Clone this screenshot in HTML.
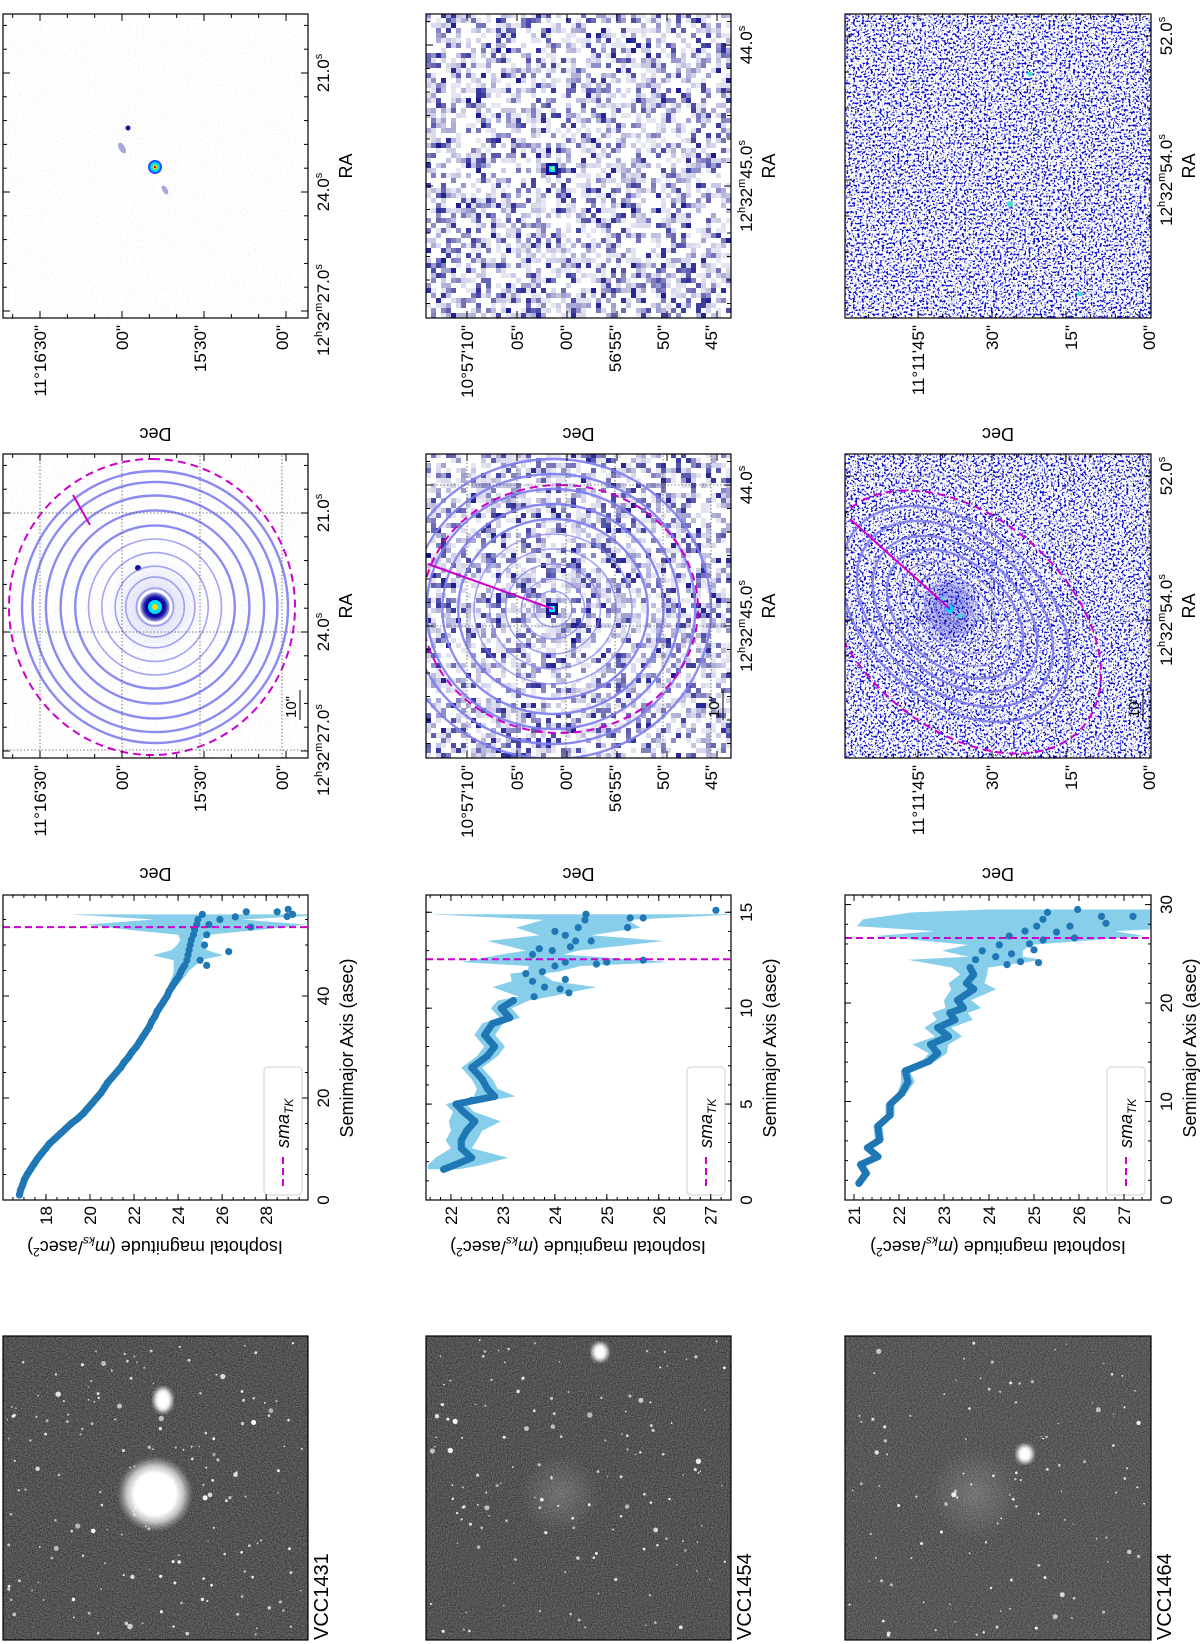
<!DOCTYPE html>
<html><head><meta charset="utf-8">
<style>
html,body{margin:0;padding:0;background:#fff;}
body{width:1200px;height:1644px;overflow:hidden;position:relative;}
#fig{position:absolute;left:0;top:0;width:1644px;height:1200px;transform-origin:0 0;transform:translate(0px,1644px) rotate(-90deg);}
text{font-family:"Liberation Sans",sans-serif;fill:#000;}
filter{color-interpolation-filters:sRGB;}
</style></head>
<body>
<div id="fig">
<svg id="fig-svg" width="1644" height="1200" viewBox="0 0 1644 1200" xmlns="http://www.w3.org/2000/svg">
<defs>
<filter id="grain1" x="0" y="0" width="1" height="1" color-interpolation-filters="sRGB"><feTurbulence type="fractalNoise" baseFrequency="0.8" numOctaves="1" seed="3"/><feColorMatrix type="matrix" values="0.45 0 0 0 0.1 0.45 0 0 0 0.1 0.45 0 0 0 0.1 0 0 0 0 1"/></filter>
<filter id="grain2" x="0" y="0" width="1" height="1" color-interpolation-filters="sRGB"><feTurbulence type="fractalNoise" baseFrequency="0.8" numOctaves="1" seed="11"/><feColorMatrix type="matrix" values="0.45 0 0 0 0.1 0.45 0 0 0 0.1 0.45 0 0 0 0.1 0 0 0 0 1"/></filter>
<filter id="grain3" x="0" y="0" width="1" height="1" color-interpolation-filters="sRGB"><feTurbulence type="fractalNoise" baseFrequency="0.8" numOctaves="1" seed="21"/><feColorMatrix type="matrix" values="0.45 0 0 0 0.12 0.45 0 0 0 0.12 0.45 0 0 0 0.12 0 0 0 0 1"/></filter>
<filter id="speck" x="0" y="0" width="1" height="1" color-interpolation-filters="sRGB"><feTurbulence type="fractalNoise" baseFrequency="0.45" numOctaves="2" seed="7"/><feColorMatrix type="matrix" values="0 0 0 0 0.02  0 0 0 0 0.05  0 0 0 0 0.8  10 0 0 0 -5.3"/></filter>
<filter id="speck2" x="0" y="0" width="1" height="1" color-interpolation-filters="sRGB"><feTurbulence type="fractalNoise" baseFrequency="0.45" numOctaves="2" seed="17"/><feColorMatrix type="matrix" values="0 0 0 0 0.02  0 0 0 0 0.05  0 0 0 0 0.8  10 0 0 0 -5.3"/></filter>
<filter id="faint" x="0" y="0" width="1" height="1" color-interpolation-filters="sRGB"><feTurbulence type="fractalNoise" baseFrequency="0.6" numOctaves="1" seed="5"/><feColorMatrix type="matrix" values="0 0 0 0 0.5  0 0 0 0 0.5  0 0 0 0 0.8  1.2 0 0 0 -0.6"/></filter>
<filter id="blur2"><feGaussianBlur stdDeviation="2"/></filter>
<filter id="blur5"><feGaussianBlur stdDeviation="6"/></filter>
<radialGradient id="glow" cx="50%" cy="50%" r="50%"><stop offset="0" stop-color="#fff"/><stop offset="0.55" stop-color="#fff"/><stop offset="0.75" stop-color="#ddd" stop-opacity="0.8"/><stop offset="1" stop-color="#aaa" stop-opacity="0"/></radialGradient>
<radialGradient id="halo" cx="50%" cy="50%" r="50%"><stop offset="0" stop-color="#2020c0" stop-opacity="0.5"/><stop offset="0.4" stop-color="#6060d0" stop-opacity="0.15"/><stop offset="1" stop-color="#8080e0" stop-opacity="0"/></radialGradient>
<radialGradient id="diffuse" cx="50%" cy="50%" r="50%"><stop offset="0" stop-color="#bbb" stop-opacity="0.3"/><stop offset="1" stop-color="#bbb" stop-opacity="0"/></radialGradient>
<clipPath id="cg1"><rect x="4" y="3" width="304" height="305"/></clipPath>
<clipPath id="cg2"><rect x="4" y="426" width="304" height="305"/></clipPath>
<clipPath id="cg3"><rect x="4" y="845" width="304" height="306"/></clipPath>
<clipPath id="ce1"><rect x="886" y="3" width="304" height="305"/></clipPath>
<clipPath id="ce2"><rect x="886" y="426" width="304" height="305"/></clipPath>
<clipPath id="ce3"><rect x="886" y="845" width="304" height="306"/></clipPath>
<clipPath id="cr1"><rect x="1326" y="3" width="304" height="305"/></clipPath>
<clipPath id="cr2"><rect x="1326" y="426" width="304" height="305"/></clipPath>
<clipPath id="cr3"><rect x="1326" y="845" width="304" height="306"/></clipPath>
</defs>

<g id="gray1" clip-path="url(#cg1)">
<rect x="4" y="3" width="304" height="305" filter="url(#grain1)"/>
<circle cx="150" cy="155" r="38" fill="url(#glow)"/>
<ellipse cx="244" cy="163" rx="12" ry="9" fill="#fff" filter="url(#blur2)"/>
</g>
<g id="gray2" clip-path="url(#cg2)">
<rect x="4" y="426" width="304" height="305" filter="url(#grain2)"/>
<circle cx="150" cy="560" r="40" fill="url(#diffuse)"/>
<ellipse cx="292" cy="600" rx="9" ry="8" fill="#fff" filter="url(#blur2)"/>
</g>
<g id="gray3" clip-path="url(#cg3)">
<rect x="4" y="845" width="304" height="306" filter="url(#grain3)"/>
<circle cx="150" cy="975" r="45" fill="url(#diffuse)"/>
<ellipse cx="190" cy="1025" rx="9" ry="8" fill="#fff" filter="url(#blur2)"/>
</g>
<rect x="4" y="3" width="304" height="305" fill="none" stroke="#000" stroke-width="1.2"/>
<rect x="4" y="426" width="304" height="305" fill="none" stroke="#000" stroke-width="1.2"/>
<rect x="4" y="845" width="304" height="306" fill="none" stroke="#000" stroke-width="1.2"/>
<text x="4" y="328" font-size="20">VCC1431</text>
<text x="4" y="751" font-size="20">VCC1454</text>
<text x="4" y="1171" font-size="20">VCC1464</text>

<text x="596" y="353" font-size="18" text-anchor="middle">Semimajor Axis (asec)</text>
<text x="596" y="776" font-size="18" text-anchor="middle">Semimajor Axis (asec)</text>
<text x="596" y="1196" font-size="18" text-anchor="middle">Semimajor Axis (asec)</text>
<text transform="translate(403,155) rotate(-90)" font-size="18" text-anchor="middle">Isophotal magnitude (<tspan font-style="italic">m</tspan><tspan font-style="italic" font-size="12" dy="4">ks</tspan><tspan dy="-4">/asec</tspan><tspan font-size="12" dy="-7">2</tspan><tspan dy="7">)</tspan></text>
<text transform="translate(403,578) rotate(-90)" font-size="18" text-anchor="middle">Isophotal magnitude (<tspan font-style="italic">m</tspan><tspan font-style="italic" font-size="12" dy="4">ks</tspan><tspan dy="-4">/asec</tspan><tspan font-size="12" dy="-7">2</tspan><tspan dy="7">)</tspan></text>
<text transform="translate(403,998) rotate(-90)" font-size="18" text-anchor="middle">Isophotal magnitude (<tspan font-style="italic">m</tspan><tspan font-style="italic" font-size="12" dy="4">ks</tspan><tspan dy="-4">/asec</tspan><tspan font-size="12" dy="-7">2</tspan><tspan dy="7">)</tspan></text>

<g clip-path="url(#ce1)">
<rect x="886" y="3" width="304" height="305" fill="#fff"/>
<rect x="886" y="3" width="304" height="305" filter="url(#faint)" opacity="0.3"/>
<circle cx="1037" cy="155" r="50" fill="url(#halo)"/>
<circle cx="1037" cy="155" r="13" fill="#0000a0" filter="url(#blur2)"/>
<circle cx="1076" cy="138" r="3" fill="#1010a0"/>
</g>
<g id="ell2bg" clip-path="url(#ce2)"><rect x="886" y="426" width="304" height="305" fill="#fff"/></g>
<g clip-path="url(#ce3)">
<rect x="886" y="845" width="304" height="306" fill="#fff"/>
<rect x="886" y="845" width="304" height="306" filter="url(#speck)"/>
<ellipse cx="1035" cy="950" rx="30" ry="25" fill="#0000c0" opacity="0.3" filter="url(#blur5)"/>
<circle cx="1035" cy="950" r="4" fill="#00d0ff"/>
<circle cx="1028" cy="960" r="2.5" fill="#40e0d0"/>
<circle cx="1045" cy="942" r="2.5" fill="#40e0d0"/>
</g>
<g clip-path="url(#cr1)">
<rect x="1326" y="3" width="304" height="305" fill="#fff"/>
<rect x="1326" y="3" width="304" height="305" filter="url(#faint)" opacity="0.3"/>
<circle cx="1516" cy="128" r="2.5" fill="#101090"/>
<ellipse cx="1496" cy="122" rx="6" ry="3" fill="#7070c0" opacity="0.6" transform="rotate(-30 1496 122)"/>
<ellipse cx="1454" cy="165" rx="5" ry="2.5" fill="#7070c0" opacity="0.6" transform="rotate(-30 1454 165)"/>
<circle cx="1477" cy="155" r="7" fill="#1a50ff"/>
<circle cx="1477" cy="155" r="5" fill="#00e0ff"/>
<circle cx="1477" cy="155" r="2.5" fill="#f0e000"/>
<circle cx="1477" cy="155" r="1.2" fill="#e00000"/>
</g>
<g id="res2bg" clip-path="url(#cr2)"><rect x="1326" y="426" width="304" height="305" fill="#fff"/></g>
<g clip-path="url(#cr3)">
<rect x="1326" y="845" width="304" height="306" fill="#fff"/>
<rect x="1326" y="845" width="304" height="306" filter="url(#speck2)"/>
<circle cx="1440" cy="1010" r="3" fill="#40e0d0"/>
<circle cx="1570" cy="1030" r="2.5" fill="#40e0d0"/>
<circle cx="1350" cy="1080" r="2.5" fill="#40e0d0"/>
</g>
</svg>
</div>

<script>
// ---------- profile data ----------
const r1Sma=[1,2,3,4,5,6,7,8,9,10,11,12,13,14,15,16,17,18,19,20,21,22,23,24,25,26,27,28,29,30,31,32,33,34,35,36,37,38,39,40,41,42,43,44,45,46,47,48,49,50,51,52,53,54,55,56];
const r1Mag=[16.8,16.85,16.95,17.02,17.15,17.3,17.45,17.6,17.78,17.97,18.15,18.4,18.65,18.9,19.15,19.45,19.7,19.9,20.1,20.3,20.5,20.65,20.8,21.0,21.2,21.4,21.55,21.75,21.9,22.1,22.25,22.4,22.55,22.7,22.8,22.95,23.05,23.2,23.35,23.5,23.6,23.75,23.9,24.05,24.15,24.3,24.4,24.45,24.5,24.55,24.6,24.7,24.75,24.85,24.9,25.1];
const r1Err=[0.03,0.03,0.03,0.03,0.03,0.03,0.03,0.03,0.03,0.03,0.03,0.03,0.03,0.03,0.03,0.03,0.03,0.03,0.03,0.03,0.03,0.03,0.03,0.03,0.03,0.03,0.03,0.03,0.03,0.03,0.04,0.04,0.05,0.05,0.06,0.06,0.08,0.1,0.1,0.12,0.15,0.2,0.25,0.3,0.35,0.5,0.6,1.6,0.8,0.6,0.5,0.7,3,5,2,6];
const r1ExSma=[48.7,55.5,55,56.5,56.5,57,56,55.6,54,52,47,46,50,53.5];
const r1ExMag=[26.3,26.6,25.9,27.1,28.5,29.0,29.2,28.95,25.4,25.3,25.0,25.3,25.2,27.3];
const r1SmaTK=53.5;
const r1XTicks=[0,20,40];
const r1YTicks=[18,20,22,24,26,28];

const r2Sma=[1.6,1.8,2.2,2.7,3.1,3.6,4.1,4.6,5.0,5.4,5.8,6.3,6.9,7.5,8.0,8.6,9.2,9.5,10.0,10.4,10.6,11.1,11.4,11.8,11.9,12.2,12.4,12.8,13.0,13.5,13.8,14.2,14.6,14.9];
const r2Mag=[21.86,22.05,22.4,22.2,22.2,22.3,22.46,22.24,22.1,22.84,22.7,22.6,22.4,22.7,22.84,22.65,22.8,23.13,22.97,23.2,23.6,23.8,23.57,23.44,23.76,24.0,24.2,23.57,23.95,24.4,24.2,24.45,24.58,24.6];
const r2Err=[0.3,0.5,0.7,0.2,0.3,0.3,0.5,0.2,0.2,0.4,0.2,0.2,0.2,0.2,0.2,0.2,0.2,0.2,0.2,0.3,0.3,1.0,0.4,0.3,0.3,0.5,2.0,0.6,0.5,1.7,0.5,1.2,0.8,3.0];
const r2ExSma=[5.2,10.8,12.3,12.4,12.5,14.2,14.7,14.7,13.5,15.1,11.0,13.2,14.0,11.5,13.1];
const r2ExMag=[22.4,24.27,24.8,25.0,25.7,25.4,25.45,25.7,24.7,27.1,24.1,24.3,24.0,24.2,23.7];
const r2SmaTK=12.55;
const r2XTicks=[0,5,10,15];
const r2YTicks=[22,23,24,25,26,27];

const r3Sma=[1.7,2.7,3.6,4.4,5.3,6.1,7.5,8.6,9.7,10.8,12.0,13.1,14.1,14.9,15.8,16.6,17.5,18.3,19.0,19.5,20.3,21.4,22.0,22.9,23.6,24.4,24.7,25.3,25.9,26.8,27.3,27.8,28.5,29.2,29.5];
const r3Mag=[21.11,21.27,21.15,21.53,21.3,21.57,21.53,21.8,21.8,22.06,22.2,22.14,22.67,22.86,22.7,23.1,22.86,23.24,23.13,23.43,23.3,23.66,23.5,23.66,23.58,23.7,24.15,23.85,24.23,24.45,24.8,25.06,25.2,25.3,25.97];
const r3Err=[0.1,0.1,0.1,0.1,0.1,0.1,0.1,0.1,0.1,0.1,0.15,0.1,0.15,0.2,0.4,0.3,0.3,0.4,0.4,0.4,0.3,0.5,0.4,0.3,0.4,1.5,0.6,0.9,0.7,3,2,4,4,3,2];
const r3ExSma=[24.2,24.1,25.4,26.4,26.6,27.8,28.1,28.8,28.8,25.0,26.0,23.9,27.2];
const r3ExMag=[24.7,25.1,25.0,25.2,25.9,25.8,26.6,26.5,27.2,24.5,24.9,24.4,25.5];
const r3SmaTK=26.6;
const r3XTicks=[0,10,20,30];
const r3YTicks=[21,22,23,24,25,26,27];

const NS='http://www.w3.org/2000/svg';
const svg=document.getElementById('fig-svg');
function mk(tag,attrs,parent){const e=document.createElementNS(NS,tag);for(const k in attrs)e.setAttribute(k,attrs[k]);(parent||svg).appendChild(e);return e;}

function drawProfile(id,x0,y0,w,h,xmin,xmax,ymin,ymax,sma,mag,err,exS,exM,tk,xt,yt,xminor,yminor,cut){
  const xs=v=>x0+(v-xmin)/(xmax-xmin)*w;
  const ys=v=>y0+(v-ymin)/(ymax-ymin)*h;
  const cp=mk('clipPath',{id:'cp'+id},svg.querySelector('defs'));
  mk('rect',{x:x0,y:y0,width:w,height:h},cp);
  const g=mk('g',{'clip-path':'url(#cp'+id+')'});
  
  
  let pts=[];
  for(let i=0;i<sma.length;i++)pts.push(xs(sma[i]).toFixed(1)+','+ys(mag[i]-err[i]).toFixed(1));
  for(let i=sma.length-1;i>=0;i--)pts.push(xs(sma[i]).toFixed(1)+','+ys(mag[i]+err[i]).toFixed(1));
  const band=mk('polygon',{points:pts.join(' '),fill:'#87ceeb'},g);
  
  
  let lp=[];
  for(let i=0;i<sma.length;i++){if(sma[i]<=cut)lp.push(xs(sma[i]).toFixed(1)+','+ys(mag[i]).toFixed(1));}
  const line=mk('polyline',{points:lp.join(' '),fill:'none',stroke:'#1f77b4','stroke-width':7,'stroke-linejoin':'round','stroke-linecap':'round'},g);
  
  
  for(let i=0;i<sma.length;i++){
    const c=mk('circle',{cx:xs(sma[i]).toFixed(1),cy:ys(mag[i]).toFixed(1),r:3.6,fill:'#1f77b4'},g);
    
    
  }
  for(let i=0;i<exS.length;i++){
    const c=mk('circle',{cx:xs(exS[i]).toFixed(1),cy:ys(exM[i]).toFixed(1),r:3.6,fill:'#1f77b4'},g);
    
    
  }
  const tl=mk('line',{x1:xs(tk),x2:xs(tk),y1:y0,y2:y0+h,stroke:'#cc00cc','stroke-width':2,'stroke-dasharray':'7,4'},g);
  
  
  const lg=mk('g',{});
  
  
  mk('rect',{x:x0+5,y:y0+h-44,width:128,height:38,rx:4,fill:'#fff','fill-opacity':0.85,stroke:'#d0d0d0'},lg);
  mk('line',{x1:x0+14,x2:x0+43,y1:y0+h-25,y2:y0+h-25,stroke:'#cc00cc','stroke-width':2,'stroke-dasharray':'7,4'},lg);
  const lt=mk('text',{x:x0+52,y:y0+h-19,'font-size':18,'font-style':'italic'},lg);
  lt.textContent='sma';
  const ls=mk('tspan',{'font-size':12,dy:4},lt);
  ls.textContent='TK';
  const fr=mk('rect',{x:x0,y:y0,width:w,height:h,fill:'none',stroke:'#000','stroke-width':1.2});
  
  
  for(const v of xt){
    const X=xs(v);
    mk('line',{x1:X,x2:X,y1:y0+h,y2:y0+h-6,stroke:'#000'});
    mk('line',{x1:X,x2:X,y1:y0,y2:y0+6,stroke:'#000'});
    const t=mk('text',{x:X,y:y0+h+21,'font-size':17,'text-anchor':'middle'});
    t.textContent=String(v);
    
    
  }
  for(let v=xmin;v<=xmax;v+=xminor){const X=xs(v);mk('line',{x1:X,x2:X,y1:y0+h,y2:y0+h-3,stroke:'#000'});mk('line',{x1:X,x2:X,y1:y0,y2:y0+3,stroke:'#000'});}
  for(const v of yt){
    const Y=ys(v);
    mk('line',{x1:x0,x2:x0+6,y1:Y,y2:Y,stroke:'#000'});
    mk('line',{x1:x0+w,x2:x0+w-6,y1:Y,y2:Y,stroke:'#000'});
    const t=mk('text',{x:x0-6,y:Y+6,'font-size':17,'text-anchor':'end'});
    t.textContent=String(v);
    
    
  }
  for(let v=Math.ceil(ymin/yminor)*yminor;v<=ymax;v+=yminor){const Y=ys(v);mk('line',{x1:x0,x2:x0+3,y1:Y,y2:Y,stroke:'#000'});mk('line',{x1:x0+w,x2:x0+w-3,y1:Y,y2:Y,stroke:'#000'});}
}
drawProfile(1,444,3,305,305,0,59.8,16.05,29.9,r1Sma,r1Mag,r1Err,r1ExSma,r1ExMag,r1SmaTK,r1XTicks,r1YTicks,5,0.5,46);
drawProfile(2,444,426,305,305,0,15.9,21.52,27.39,r2Sma,r2Mag,r2Err,r2ExSma,r2ExMag,r2SmaTK,r2XTicks,r2YTicks,1,0.2,10.5);
drawProfile(3,444,845,305,306,0,30.97,20.8,27.6,r3Sma,r3Mag,r3Err,r3ExSma,r3ExMag,r3SmaTK,r3XTicks,r3YTicks,2,0.2,23.7);

// ---------- image textures ----------
let seed=12345;
function rnd(){seed=(seed*1103515245+12345)%2147483648;return seed/2147483648;}
function stars(gid,x0,y0,n){
  const g=document.getElementById(gid);
  for(let i=0;i<n;i++){
    const r=rnd()<0.88?0.7+rnd()*0.9:1.4+rnd()*1.4;
    const s=mk('circle',{cx:(x0+4+rnd()*296).toFixed(1),cy:(y0+4+rnd()*296).toFixed(1),r:r.toFixed(1),fill:'#fff','fill-opacity':(0.55+rnd()*0.45).toFixed(2)},g);
    
    
  }
}
stars('gray1',4,3,170);stars('gray2',4,426,140);stars('gray3',4,845,110);

function blocks(gid,x0,y0){
  const g=document.getElementById(gid);
  const cs=5;
  for(let i=0;i<61;i++)for(let j=0;j<61;j++){
    const r=rnd();
    if(r<0.45)continue;
    const a=Math.pow((r-0.45)/0.55,2.2);
    const rc=mk('rect',{x:x0+i*cs,y:y0+j*cs,width:cs,height:cs,fill:'#10108a','fill-opacity':(0.1+a*0.85).toFixed(2)},g);
    
    
  }
}
blocks('res2bg',1326,426);blocks('ell2bg',886,426);
(function(){
  for(const [gid,cx] of [['res2bg',1475],['ell2bg',1035]]){
    const g=document.getElementById(gid);
    mk('rect',{x:cx-6,y:546,width:12,height:12,fill:'#10108a'},g);
    mk('rect',{x:cx-3,y:549,width:6,height:6,fill:'#00e0ff'},g);
    mk('rect',{x:cx-1,y:551,width:3,height:3,fill:'#e8e000'},g);
  }
})();

// ---------- ellipse overlays ----------
function ellipses(cx,cy,rot,a,b,fr,clip,id){
  const g=mk('g',{'clip-path':'url(#'+clip+')'});
  
  
  for(const f of fr){
    const e=mk('ellipse',{cx:cx,cy:cy,rx:(a*f).toFixed(1),ry:(b*f).toFixed(1),fill:'none',stroke:'#7d7df0','stroke-width':f>0.5?2.4:1.6,'stroke-opacity':f>0.5?0.9:0.7,transform:'rotate('+rot+' '+cx+' '+cy+')'},g);
    
    
  }
  return g;
}
const g1=ellipses(1037,155,0,136,133,[0.14,0.22,0.3,0.4,0.5,0.6,0.71,0.82,0.92,1.0],'ce1','1');
mk('circle',{cx:1037,cy:155,r:16,fill:'none',stroke:'#fff','stroke-width':2.5},g1);
mk('circle',{cx:1037,cy:155,r:7,fill:'#00e0ff'},g1);
mk('circle',{cx:1037,cy:155,r:3,fill:'#f0e000'},g1);
const d1=mk('ellipse',{cx:1037,cy:152,rx:148,ry:143,fill:'none',stroke:'#cc00cc','stroke-width':2,'stroke-dasharray':'8,5'},g1);


mk('line',{x1:1149,y1:73,x2:1119,y2:90,stroke:'#cc00cc','stroke-width':2},g1);

const g2=ellipses(1035,553,0,150,158,[0.12,0.2,0.3,0.4,0.5,0.6,0.7,0.8,0.9,1.0],'ce2','2');
const d2=mk('ellipse',{cx:1035,cy:560,rx:124,ry:138,fill:'none',stroke:'#cc00cc','stroke-width':2,'stroke-dasharray':'8,5'},g2);


mk('line',{x1:1035,y1:553,x2:1080,y2:428,stroke:'#cc00cc','stroke-width':2},g2);

const g3=ellipses(1030,955,-49,150,100,[0.08,0.15,0.23,0.32,0.42,0.52,0.63,0.75,0.87],'ce3','3');
const d3=mk('ellipse',{cx:1022,cy:962,rx:160,ry:105,fill:'none',stroke:'#cc00cc','stroke-width':2,'stroke-dasharray':'8,5',transform:'rotate(-49 1022 962)'},g3);


mk('line',{x1:1035,y1:950,x2:1125,y2:850,stroke:'#cc00cc','stroke-width':2},g3);

// ---------- image axes ----------
const raT1=[[1571,'21.0^s'],[1452,'24.0^s'],[1334,'12^h32^m27.0^s']];
const decT1=[[40,"11°16'30\""],[122,'00"'],[200,"15'30\""],[282,'00"']];
const raT2=[[1599,'44.0^s'],[1458,'12^h32^m45.0^s']];
const decT2=[[467,"10°57'10\""],[517,'05"'],[566,'00"'],[615,"56'55\""],[663,'50"'],[711,'45"']];
const raT3=[[1608,'52.0^s'],[1464,'12^h32^m54.0^s']];
const decT3=[[918,"11°11'45\""],[992,'30"'],[1071,'15"'],[1149,'00"']];

function label(parent,x,y,str,anchor){
  const t=mk('text',{x:x,y:y,'font-size':17,'text-anchor':anchor},parent);
  const parts=str.split('^');
  t.appendChild(document.createTextNode(parts[0]));
  for(let i=1;i<parts.length;i++){
    const sup=mk('tspan',{'font-size':11,dy:-7},t);sup.textContent=parts[i][0];
    const rest=mk('tspan',{dy:7},t);rest.textContent=parts[i].slice(1)||'\u200b';
  }
  return t;
}
function imgAxes(id,x0,y0,w,h,ra,dec,shift,grid,raMin,decMin){
  const g=mk('g',{});
  
  
  if(grid){
    for(const [x] of ra)mk('line',{x1:x-shift,x2:x-shift,y1:y0,y2:y0+h,stroke:'#555','stroke-width':0.8,'stroke-dasharray':'1.5,2'},g);
    for(const [y] of dec)mk('line',{x1:x0,x2:x0+w,y1:y,y2:y,stroke:'#555','stroke-width':0.8,'stroke-dasharray':'1.5,2'},g);
  }
  mk('rect',{x:x0,y:y0,width:w,height:h,fill:'none',stroke:'#000','stroke-width':1.2},g);
  const sp=ra.length>1?Math.abs(ra[0][0]-ra[1][0]):100;
  for(let k=-12;k<=12;k++){const x=ra[0][0]-shift+k*sp/raMin;if(x>x0&&x<x0+w){const maj=k%raMin===0;mk('line',{x1:x,x2:x,y1:y0+h,y2:y0+h-(maj?7:4),stroke:'#000'},g);mk('line',{x1:x,x2:x,y1:y0,y2:y0+(maj?7:4),stroke:'#000'},g);}}
  const ds=dec[1][0]-dec[0][0];
  for(let k=-20;k<=40;k++){const y=dec[0][0]+k*ds/decMin;if(y>y0&&y<y0+h){const maj=k%decMin===0;mk('line',{x1:x0,x2:x0+(maj?7:4),y1:y,y2:y,stroke:'#000'},g);mk('line',{x1:x0+w,x2:x0+w-(maj?7:4),y1:y,y2:y,stroke:'#000'},g);}}
  for(const [x,s] of ra){const t=label(g,x-shift,y0+h+21,s,'middle');}
  for(const [y,s] of dec){const t=label(g,x0-7,y+6,s,'end');}
  const rl=mk('text',{x:x0+w/2,y:y0+h+44,'font-size':18,'text-anchor':'middle'},g);
  rl.textContent='RA';
  
  
  const dl=mk('text',{transform:'translate('+(x0-110)+','+(y0+h/2)+') rotate(-90)','font-size':18,'text-anchor':'middle'},g);
  dl.textContent='Dec';
  
  
  if(grid){
    mk('line',{x1:x0+38,x2:x0+68,y1:y0+h-8,y2:y0+h-8,stroke:'#000','stroke-width':1},g);
    const sb=mk('text',{x:x0+40,y:y0+h-12,'font-size':15},g);
    sb.textContent='10"';
    
    
  }
}
imgAxes('r1',1326,3,304,305,raT1,decT1,0,false,5,3);
imgAxes('e1',886,3,304,305,raT1,decT1,440,true,5,3);
imgAxes('r2',1326,426,304,305,raT2,decT2,0,false,6,1);
imgAxes('e2',886,426,304,305,raT2,decT2,440,true,6,1);
imgAxes('r3',1326,845,304,306,raT3,decT3,0,false,4,3);
imgAxes('e3',886,845,304,306,raT3,decT3,440,true,4,3);
</script>
</body></html>
